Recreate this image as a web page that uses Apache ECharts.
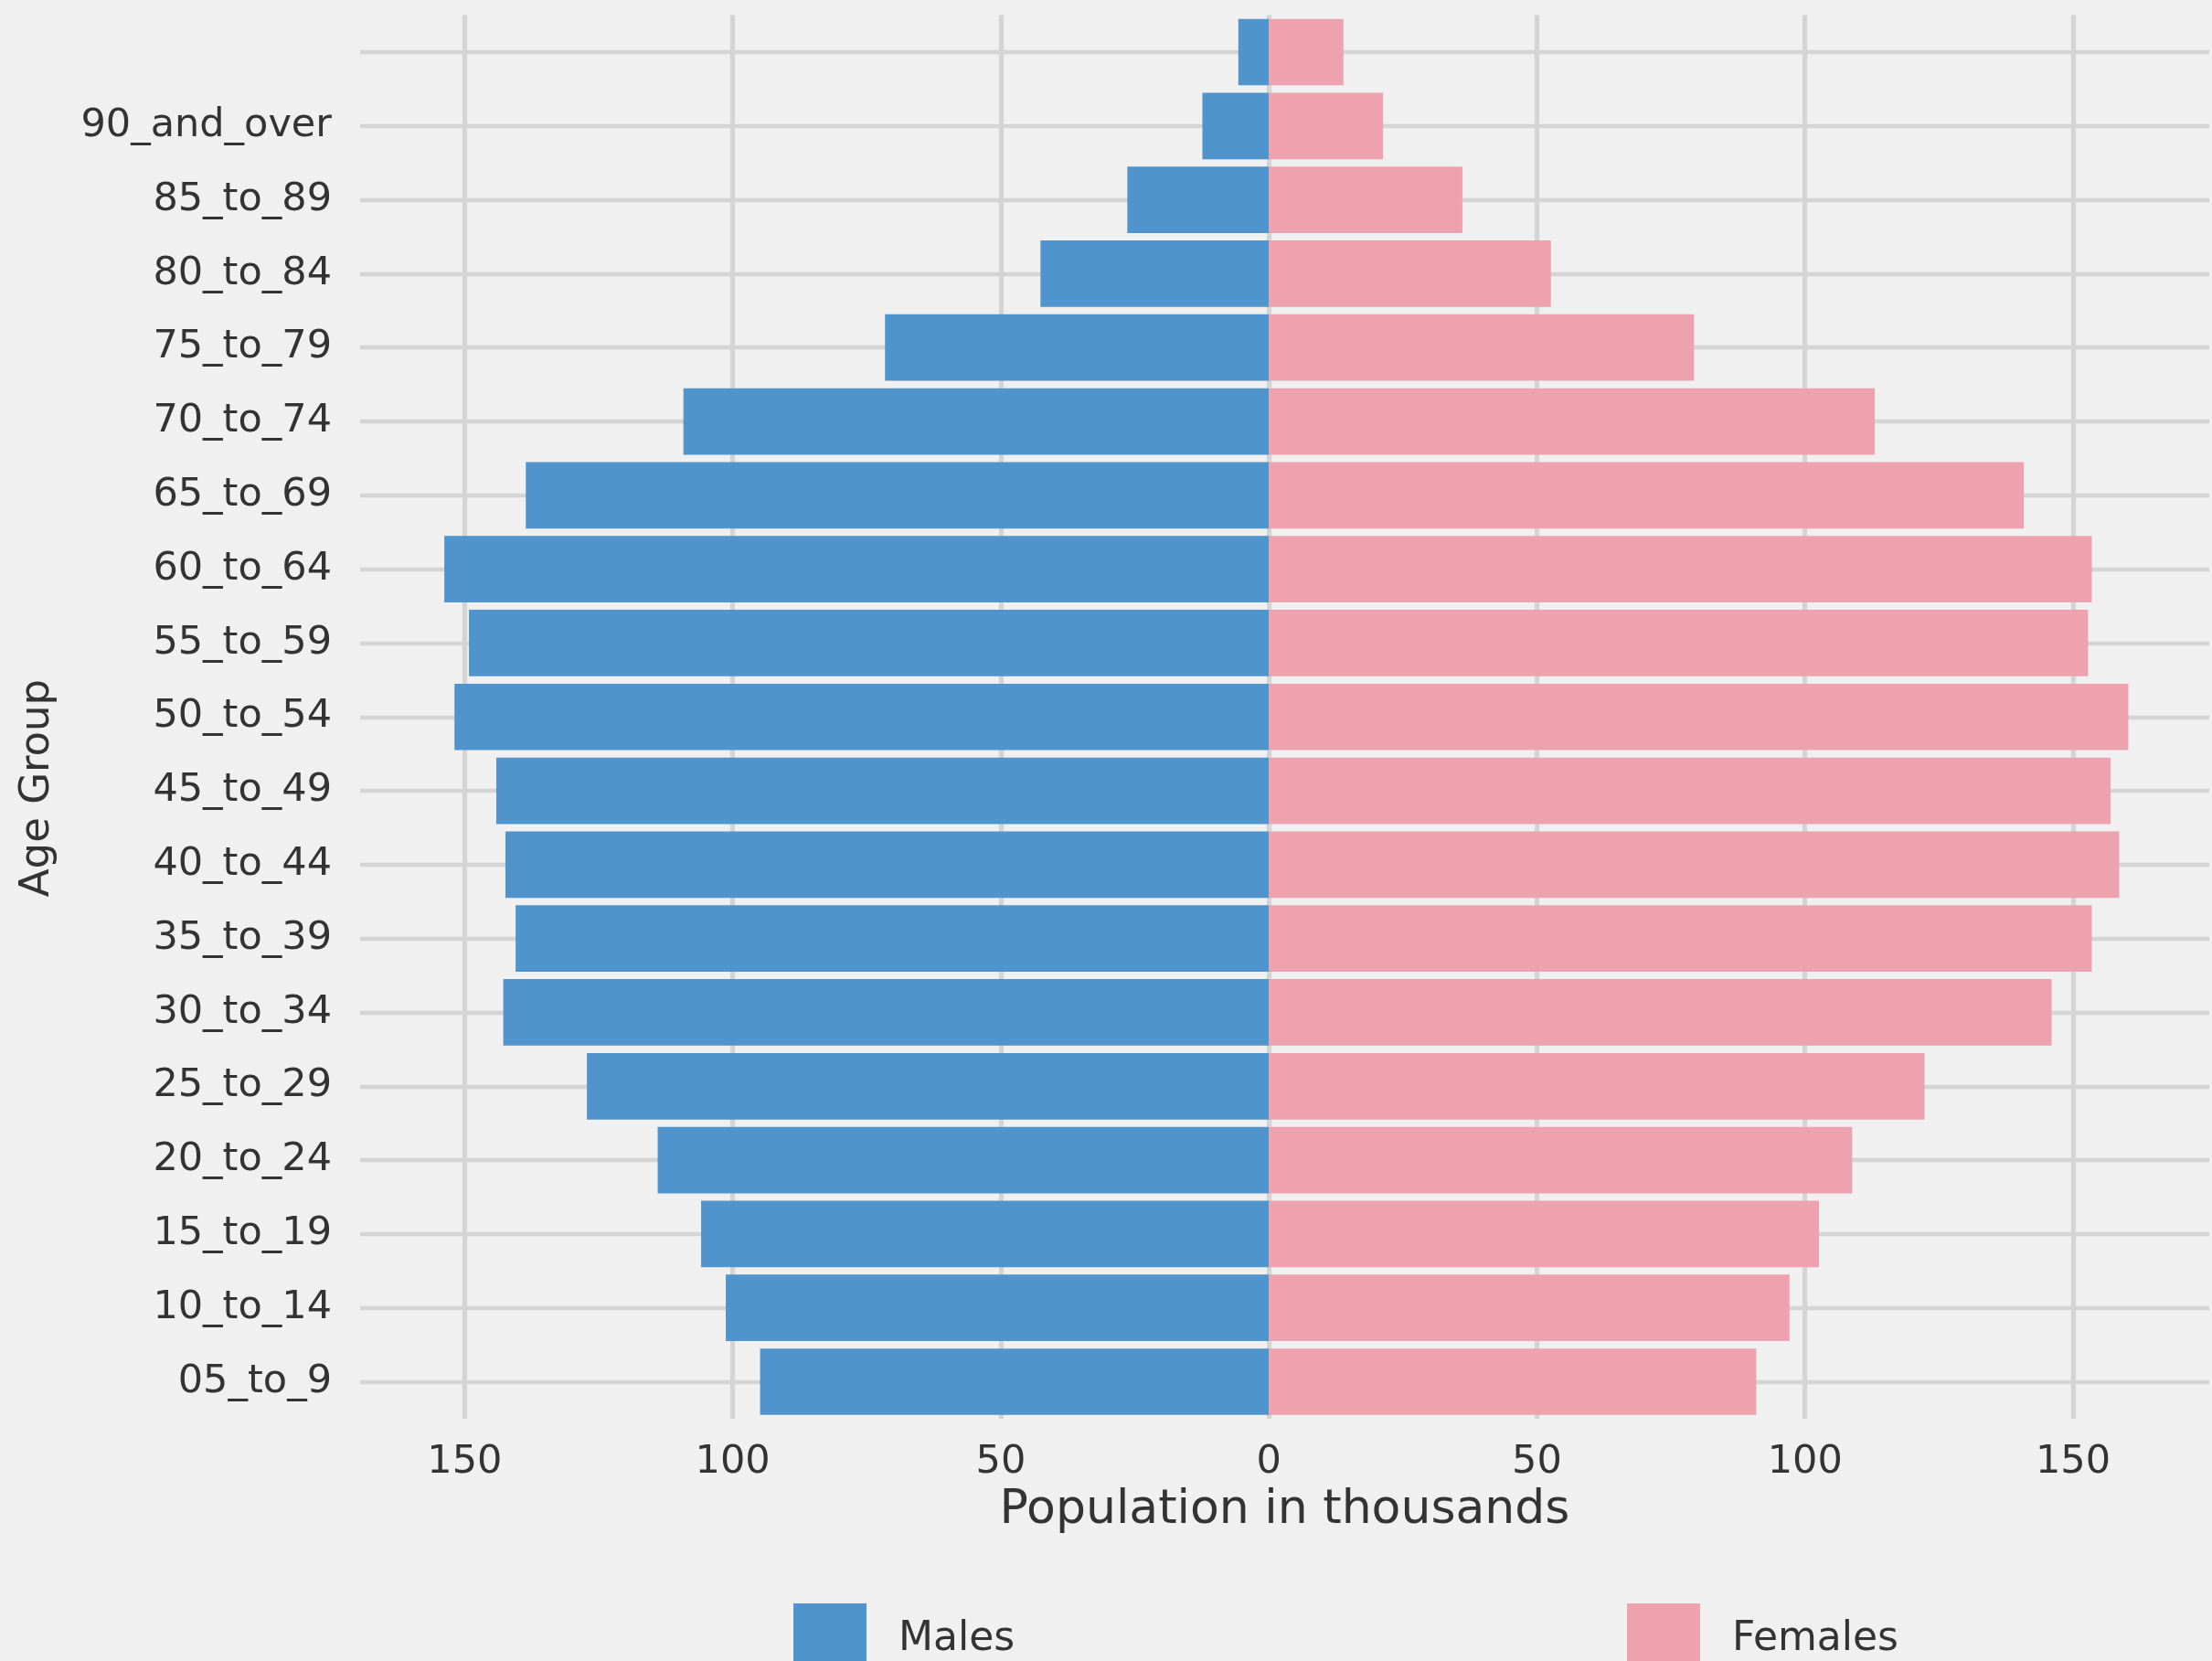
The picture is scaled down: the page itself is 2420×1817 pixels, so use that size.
<!DOCTYPE html>
<html>
<head>
<meta charset="utf-8">
<title>Population pyramid</title>
<script src="https://cdn.jsdelivr.net/npm/echarts@6/dist/echarts.min.js"></script>
<style>
  html, body { margin: 0; padding: 0; background: #f0f0f0; }
  #chart { width: 2420px; height: 1817px; }
</style>
</head>
<body>
<div id="chart"></div>
<script>
// age groups, bottom row first (the top row has no label in the source)
const ageGroups = [
  '05_to_9', '10_to_14', '15_to_19', '20_to_24', '25_to_29', '30_to_34',
  '35_to_39', '40_to_44', '45_to_49', '50_to_54', '55_to_59', '60_to_64',
  '65_to_69', '70_to_74', '75_to_79', '80_to_84', '85_to_89', '90_and_over', ''
];
// population in thousands, same order as ageGroups
const males = [94.9, 101.3, 105.9, 114.0, 127.2, 142.8, 140.5, 142.4, 144.1, 151.9,
  149.2, 153.8, 138.6, 109.2, 71.6, 42.6, 26.4, 12.4, 5.7];
const females = [90.9, 97.1, 102.6, 108.8, 122.3, 146.0, 153.5, 158.6, 157.0, 160.3,
  152.8, 153.5, 140.8, 113.0, 79.3, 52.6, 36.1, 21.3, 13.9];
// x tick labels shown (males to the left of 0)
const xTicks = [-150, -100, -50, 0, 50, 100, 150];

const textColor = '#333333';
const gridColor = '#d4d4d4';
const font = 'DejaVu Sans';

const chart = echarts.init(document.getElementById('chart'));

chart.setOption({
  animation: false,
  backgroundColor: '#f0f0f0',
  textStyle: { fontFamily: font },
  grid: { left: 394, right: 0, top: 16.6, height: 1535.3 },
  legend: [
    {
      data: ['Males'], left: 868, top: 1754, padding: 0, selectedMode: false,
      icon: 'rect', itemWidth: 80, itemHeight: 80,
      textStyle: { fontSize: 44, color: textColor, fontFamily: font, padding: [0, 0, 14, 30] }
    },
    {
      data: ['Females'], left: 1780, top: 1754, padding: 0, selectedMode: false,
      icon: 'rect', itemWidth: 80, itemHeight: 80,
      textStyle: { fontSize: 44, color: textColor, fontFamily: font, padding: [0, 0, 14, 30] }
    }
  ],
  xAxis: {
    type: 'value',
    min: -169.5,
    max: 175.4,
    splitNumber: 7,
    axisLine: { show: false },
    axisTick: { show: false },
    axisLabel: {
      fontSize: 43, color: textColor, fontFamily: font, margin: 26,
      formatter: (v) => (xTicks.indexOf(v) >= 0 ? String(Math.abs(v)) : '')
    },
    splitLine: {
      show: true, showMinLine: false, showMaxLine: false,
      lineStyle: { color: gridColor, width: 5.3 }
    },
    name: 'Population in thousands',
    nameLocation: 'middle',
    nameGap: 75,
    nameTextStyle: { fontSize: 52, color: textColor, fontFamily: font }
  },
  yAxis: {
    type: 'category',
    data: ageGroups,
    axisLine: { show: false },
    axisTick: { show: false },
    splitLine: { show: false },
    axisLabel: { fontSize: 43, color: textColor, fontFamily: font, margin: 31, interval: 0 }
  },
  graphic: [
    {
      type: 'text', x: 41, y: 862, rotation: Math.PI / 2, silent: true,
      style: {
        text: 'Age Group', fill: textColor, fontSize: 45, fontFamily: font,
        align: 'center', verticalAlign: 'middle'
      }
    }
  ],
  series: [
    {
      name: 'Males',
      type: 'bar',
      stack: 'pop',
      barWidth: '90%',
      itemStyle: { color: '#4F94CD' },
      data: males.map((v) => -v),
      // horizontal grid lines through each age group, behind the bars
      markLine: {
        z: 1,
        silent: true,
        symbol: ['none', 'none'],
        label: { show: false },
        lineStyle: { color: gridColor, width: 4.3, type: 'solid' },
        data: ageGroups.map((g, i) => ({ yAxis: i }))
      }
    },
    {
      name: 'Females',
      type: 'bar',
      stack: 'pop',
      barWidth: '90%',
      itemStyle: { color: '#EEA2AD' },
      data: females
    }
  ]
});
</script>
</body>
</html>
